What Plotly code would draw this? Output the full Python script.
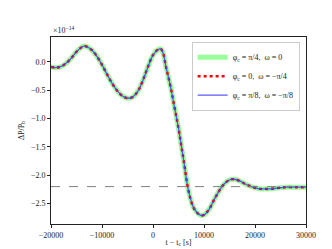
import plotly.graph_objects as go

t = [-20000, -19000, -18000, -17000, -16000, -15000, -14000, -13500, -13000, -12000,
     -11000, -10000, -9000, -8000, -7000, -6000, -5000, -4000, -3000, -2000,
     -1000, 0, 1000, 1500, 2000, 2500, 3000, 3500, 4000, 5000,
     5500, 6000, 7000, 8000, 9000, 9500, 10000, 11000, 12000, 13000,
     14000, 15000, 16000, 17000, 18000, 19000, 20000, 21000, 22000, 23000,
     24000, 25000, 26000, 28000, 30000]
dp = [-0.09, -0.10, -0.08, -0.02, 0.07, 0.18, 0.26, 0.28, 0.27, 0.21,
      0.10, -0.05, -0.22, -0.38, -0.51, -0.60, -0.64, -0.62, -0.52, -0.33,
      -0.09, 0.12, 0.22, 0.23, 0.15, -0.07, -0.26, -0.46, -0.70, -1.17,
      -1.45, -1.73, -2.29, -2.58, -2.69, -2.71, -2.70, -2.60, -2.43, -2.27,
      -2.15, -2.08, -2.07, -2.10, -2.15, -2.19, -2.22, -2.24, -2.24, -2.24,
      -2.23, -2.22, -2.21, -2.21, -2.21]
ref_level = -2.2

labels = ["φ<sub>c</sub> = π/4,  ω = 0",
          "φ<sub>c</sub> = 0,  ω = −π/4",
          "φ<sub>c</sub> = π/8,  ω = −π/8"]

xticks = [-20000, -10000, 0, 10000, 20000, 30000]
yticks = [0.0, -0.5, -1.0, -1.5, -2.0, -2.5]
yticklabels = ["0.0", "−0.5", "−1.0", "−1.5", "−2.0", "−2.5"]

FONT = "Liberation Serif"
INK = "#222222"

fig = go.Figure()
fig.add_trace(go.Scatter(x=t, y=dp, mode="lines", name=labels[0],
                         line=dict(color="rgba(120,255,120,0.75)", width=5, shape="spline")))
fig.add_trace(go.Scatter(x=t, y=dp, mode="lines", name=labels[1],
                         line=dict(color="red", width=2.5, dash="dot", shape="spline")))
fig.add_trace(go.Scatter(x=t, y=dp, mode="lines", name=labels[2],
                         line=dict(color="rgba(60,60,255,0.85)", width=1.3, shape="spline")))

fig.add_hline(y=ref_level, line=dict(color="gray", width=1, dash="dash"))

fig.add_annotation(text="×10<sup>−14</sup>", xref="paper", yref="paper", x=0, y=1.0,
                   xanchor="left", yanchor="bottom", showarrow=False,
                   font=dict(family=FONT, size=8, color=INK))

fig.update_layout(
    width=332, height=249,
    margin=dict(l=41, r=34, t=29, b=28),
    paper_bgcolor="white", plot_bgcolor="white",
    font=dict(family=FONT, size=8, color=INK),
    showlegend=True,
    legend=dict(x=0.975, y=0.975, xanchor="right", yanchor="top",
                bordercolor="#cccccc", borderwidth=1, bgcolor="rgba(255,255,255,0.8)",
                font=dict(family=FONT, size=8, color=INK), tracegroupgap=0,
                itemwidth=30),
)
fig.update_xaxes(range=[-20000, 30000], tickvals=xticks,
                 ticktext=[str(v).replace("-", "−") for v in xticks],
                 tickfont=dict(family=FONT, size=8, color=INK),
                 showgrid=False, zeroline=False, showline=True, linecolor=INK,
                 linewidth=1, mirror=True, ticks="outside", ticklen=3, tickcolor=INK,
                 title=dict(text="t − t<sub>c</sub> [s]", font=dict(family=FONT, size=8, color=INK),
                            standoff=0))
fig.update_yaxes(range=[-2.86, 0.44], tickvals=yticks, ticktext=yticklabels,
                 tickfont=dict(family=FONT, size=8, color=INK),
                 showgrid=False, zeroline=False, showline=True, linecolor=INK,
                 linewidth=1, mirror=True, ticks="outside", ticklen=3, tickcolor=INK,
                 title=dict(text="ΔP/P<sub>b</sub>", font=dict(family=FONT, size=8, color=INK),
                            standoff=5))

fig.write_html("out.html")
